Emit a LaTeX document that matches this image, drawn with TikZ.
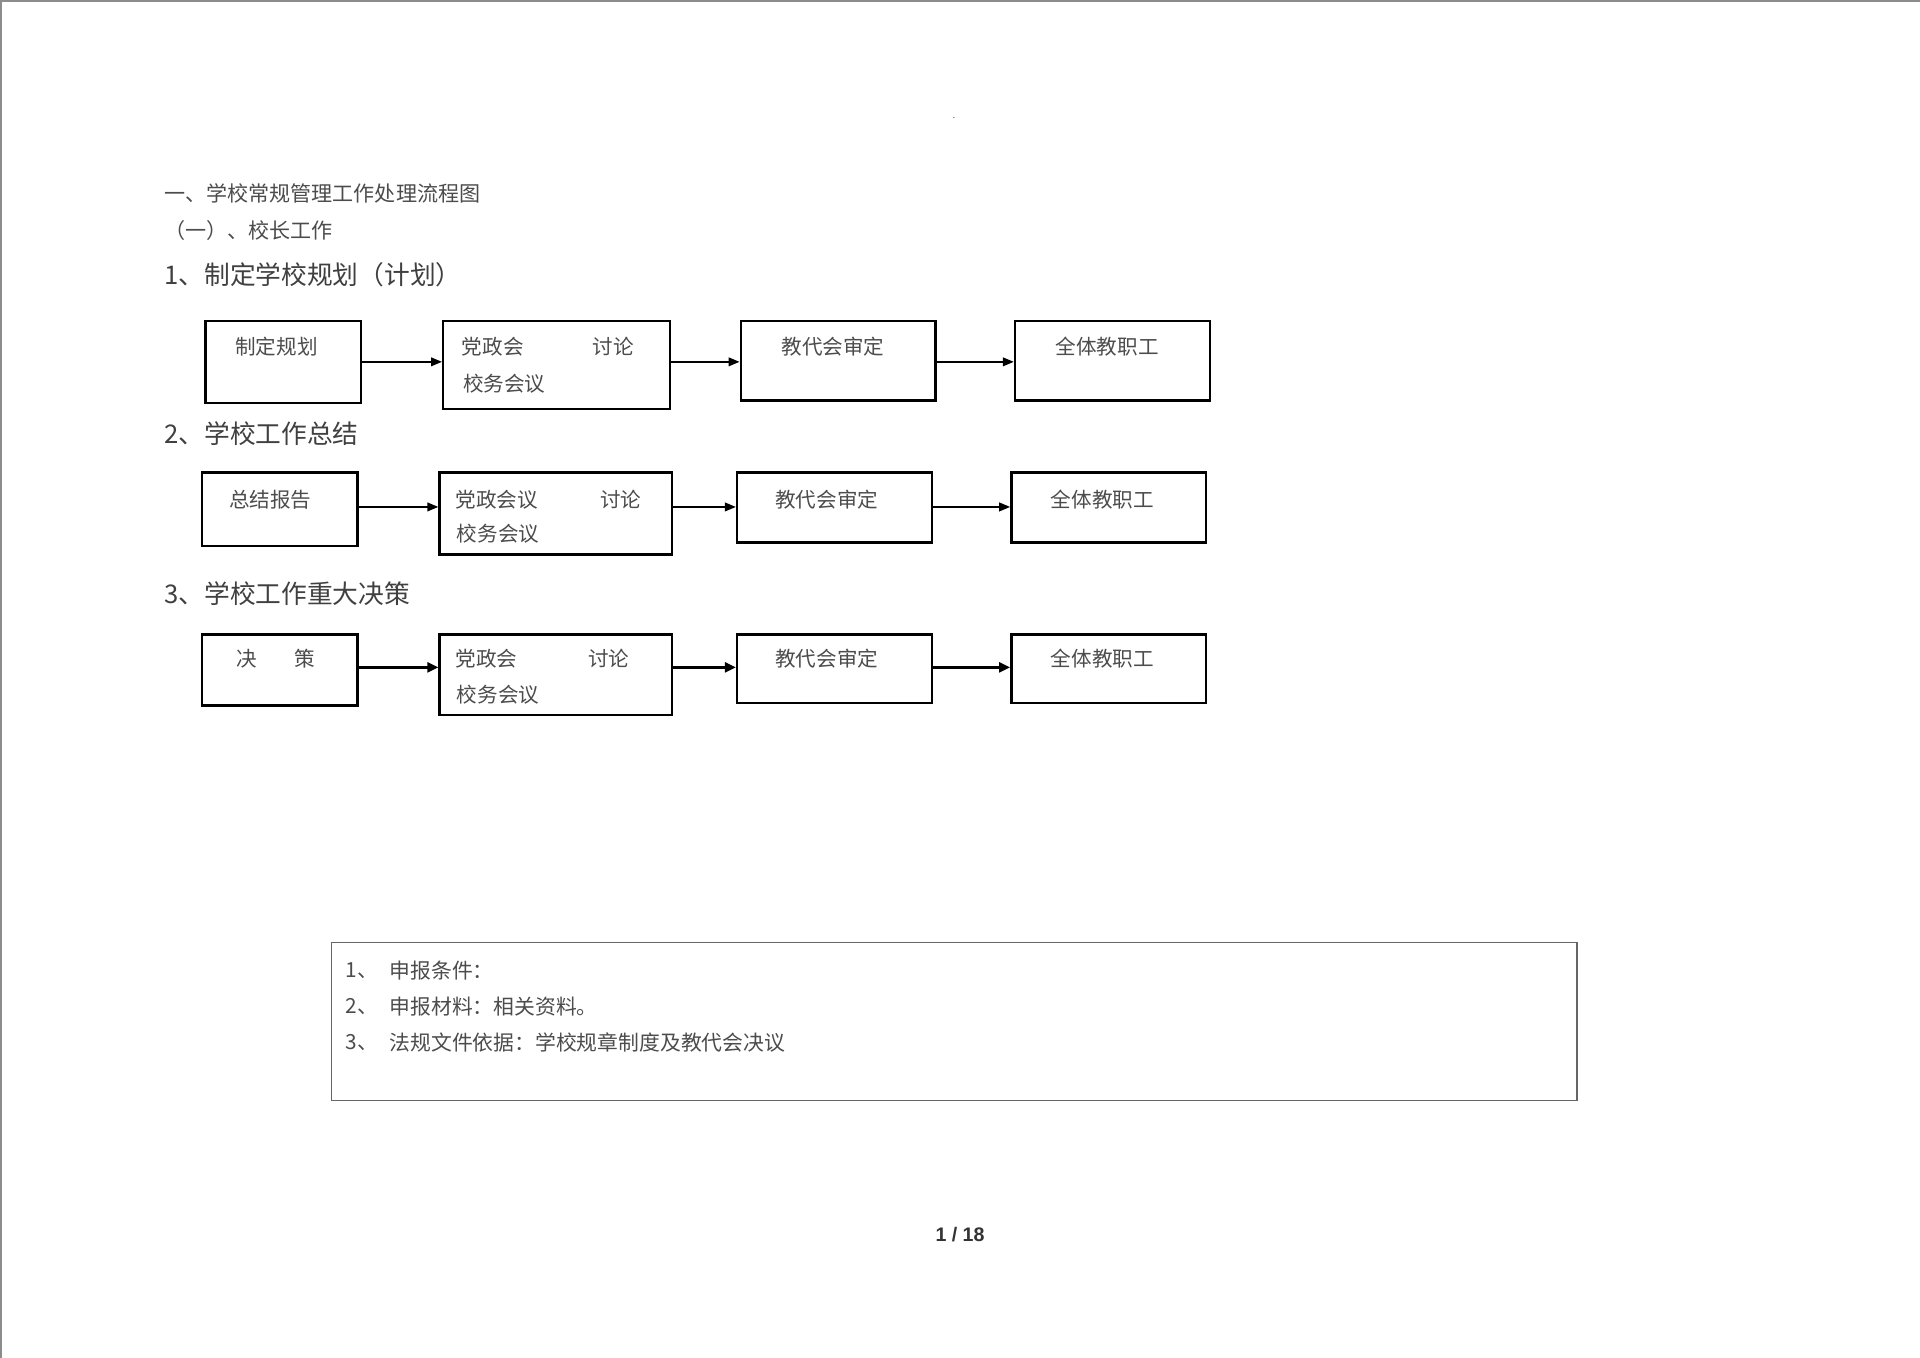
\documentclass[tikz,border=0pt]{standalone}
\usepackage{fontspec}
\setmainfont{Liberation Sans}
\newfontfamily\cjk{Noto Sans CJK SC}
\usetikzlibrary{arrows.meta}
\begin{document}
\begin{tikzpicture}[x=1pt,y=-1pt,
  box/.style={draw=black,line width=2pt,anchor=north west,inner sep=0pt},
  txt/.style={anchor=west,inner sep=0pt,text=black!70,font=\cjk\fontsize{16.8}{16.8}\selectfont},
  head/.style={anchor=west,inner sep=0pt,text=black!75,font=\cjk\fontsize{21}{21}\selectfont},
  small/.style={anchor=west,inner sep=0pt,text=black!70,font=\cjk\fontsize{17.2}{17.2}\selectfont},
  note/.style={anchor=west,inner sep=0pt,text=black!70,font=\cjk\fontsize{17}{17}\selectfont},
  arr/.style={line width=1.6pt,-{Triangle[length=9pt,width=7pt]}},
  arrb/.style={line width=2.6pt,-{Triangle[length=9pt,width=8pt]}}]
\useasboundingbox (0,0) rectangle (1568,1109);
\fill[white] (0,0) rectangle (1568,1109);
\draw[black!45,line width=1.2pt] (1,1109) -- (1,1) -- (1568,1);
\node[inner sep=0pt,fill=black!50,circle,minimum size=1.2pt] (dot) at (779,96) {};
% headings
\node[small] (t1) at (134,158) {一、学校常规管理工作处理流程图};
\node[small] (t2) at (134,188) {（一）、校长工作};
\node[head] (h1) at (134,224) {1、制定学校规划（计划）};
\node[head] (h2) at (134,354) {2、学校工作总结};
\node[head] (h3) at (134,485) {3、学校工作重大决策};
% row 1
\node[box,minimum width=127pt,minimum height=67pt] (a1) at (167,261) {};
\node[box,minimum width=185pt,minimum height=72pt] (a2) at (361,261) {};
\node[box,minimum width=159pt,minimum height=65pt] (a3) at (604,261) {};
\node[box,minimum width=159pt,minimum height=65pt] (a4) at (828,261) {};
\node[txt] (a1t) at (192,283) {制定规划};
\node[txt] (a2t) at (377,283) {党政会};
\node[txt] (a2u) at (484,283) {讨论};
\node[txt] (a2v) at (378,313) {校务会议};
\node[txt] (a3t) at (638,283) {教代会审定};
\node[txt] (a4t) at (862,283) {全体教职工};
\draw[arr] (a1.east) -- (a1.east -| a2.west);
\draw[arr] (a2.east |- a1.east) -- (a1.east -| a3.west);
\draw[arr] (a3.east |- a1.east) -- (a1.east -| a4.west);
% row 2
\node[box,minimum width=127pt,minimum height=60pt] (b1) at (164,385) {};
\node[box,minimum width=190pt,minimum height=67pt] (b2) at (358,385) {};
\node[box,minimum width=159pt,minimum height=57pt] (b3) at (601,385) {};
\node[box,minimum width=159pt,minimum height=57pt] (b4) at (825,385) {};
\node[txt] (b1t) at (187,408) {总结报告};
\node[txt] (b2t) at (372,408) {党政会议};
\node[txt] (b2u) at (490,408) {讨论};
\node[txt] (b2v) at (373,436) {校务会议};
\node[txt] (b3t) at (633,408) {教代会审定};
\node[txt] (b4t) at (858,408) {全体教职工};
\coordinate (by) at (0,414);
\draw[arr] (b1.east |- by) -- (b2.west |- by);
\draw[arr] (b2.east |- by) -- (b3.west |- by);
\draw[arr] (b3.east |- by) -- (b4.west |- by);
% row 3
\node[box,minimum width=127pt,minimum height=58pt] (c1) at (164,517) {};
\node[box,minimum width=190pt,minimum height=66pt] (c2) at (358,517) {};
\node[box,minimum width=159pt,minimum height=56pt] (c3) at (601,517) {};
\node[box,minimum width=159pt,minimum height=56pt] (c4) at (825,517) {};
\node[txt] (c1t) at (193,538) {决};
\node[txt] (c1u) at (240,538) {策};
\node[txt] (c2t) at (372,538) {党政会};
\node[txt] (c2u) at (480,538) {讨论};
\node[txt] (c2v) at (373,567) {校务会议};
\node[txt] (c3t) at (633,538) {教代会审定};
\node[txt] (c4t) at (858,538) {全体教职工};
\coordinate (cy) at (0,545);
\draw[arrb] (c1.east |- cy) -- (c2.west |- cy);
\draw[arrb] (c2.east |- cy) -- (c3.west |- cy);
\draw[arrb] (c3.east |- cy) -- (c4.west |- cy);
% note box
\node[draw=black!60,line width=1.3pt,anchor=north west,inner sep=0pt,minimum width=1017pt,minimum height=129pt] (nb) at (270,769) {};
\node[note] (n1a) at (282,793) {1、};
\node[note] (n1b) at (318,793) {申报条件：};
\node[note] (n2a) at (282,822) {2、};
\node[note] (n2b) at (318,822) {申报材料：相关资料。};
\node[note] (n3a) at (282,851) {3、};
\node[note] (n3b) at (318,851) {法规文件依据：学校规章制度及教代会决议};
\node[inner sep=0pt,text=black!80,font=\bfseries\fontsize{16}{16}\selectfont] (pg) at (784,1008) {1 / 18};
\end{tikzpicture}
\end{document}
